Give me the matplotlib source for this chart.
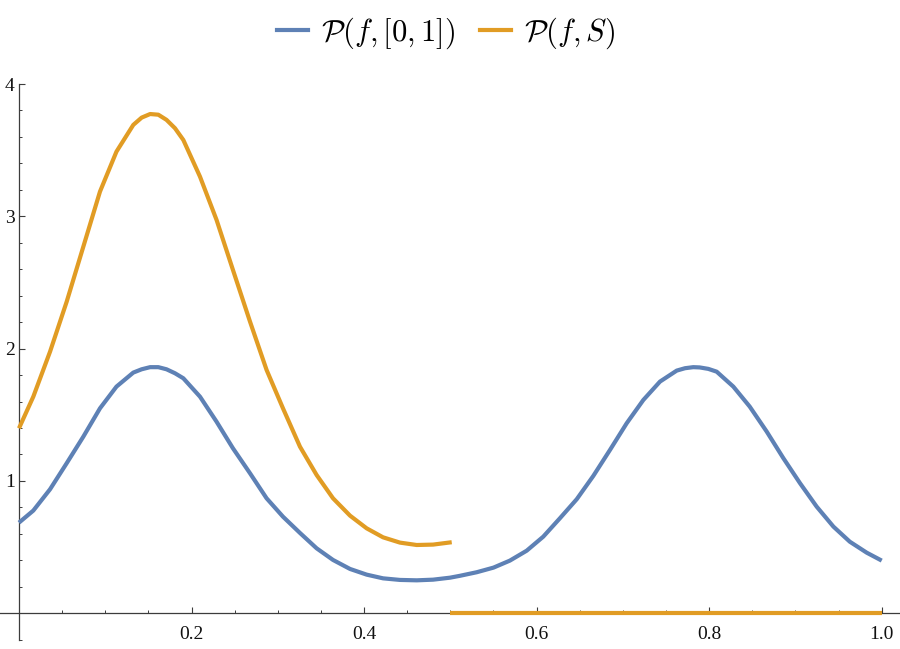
import matplotlib
matplotlib.use("Agg")
import matplotlib.pyplot as plt
from matplotlib.lines import Line2D
from matplotlib.ticker import MultipleLocator, FixedLocator

# ---- data ----
x_blue = [0.000, 0.0166, 0.036, 0.0553, 0.0746, 0.0939, 0.113, 0.1325, 0.1422, 0.152,
          0.1615, 0.171, 0.1808, 0.1905, 0.2098, 0.229, 0.248, 0.2678, 0.287, 0.306,
          0.3257, 0.345, 0.364, 0.3837, 0.403, 0.422, 0.4416, 0.461, 0.480, 0.4996,
          0.511, 0.5305, 0.550, 0.569, 0.5885, 0.6077, 0.627, 0.6465, 0.6657, 0.685,
          0.7044, 0.7237, 0.743, 0.7624, 0.7720, 0.7816, 0.789, 0.7990, 0.8087, 0.828,
          0.847, 0.8667, 0.886, 0.9053, 0.9246, 0.944, 0.963, 0.9826, 1.000]
y_blue = [0.685, 0.776, 0.937, 1.134, 1.335, 1.549, 1.713, 1.819, 1.844, 1.860,
          1.860, 1.844, 1.814, 1.776, 1.637, 1.448, 1.247, 1.058, 0.869, 0.730,
          0.607, 0.491, 0.403, 0.335, 0.292, 0.264, 0.252, 0.249, 0.254, 0.269,
          0.283, 0.310, 0.345, 0.398, 0.473, 0.579, 0.718, 0.862, 1.038, 1.234,
          1.436, 1.612, 1.751, 1.834, 1.852, 1.860, 1.858, 1.847, 1.826, 1.713,
          1.562, 1.373, 1.172, 0.983, 0.806, 0.655, 0.541, 0.458, 0.398]

x_orange = [0.000, 0.0166, 0.036, 0.0553, 0.0746, 0.0939, 0.113, 0.1325, 0.1422, 0.152,
            0.1615, 0.171, 0.1808, 0.1905, 0.2098, 0.229, 0.248, 0.2678, 0.287, 0.306,
            0.3257, 0.345, 0.364, 0.3837, 0.403, 0.422, 0.4416, 0.461, 0.480, 0.5016]
y_orange = [1.398, 1.637, 1.977, 2.355, 2.771, 3.187, 3.489, 3.691, 3.746, 3.773,
            3.768, 3.729, 3.666, 3.577, 3.300, 2.973, 2.595, 2.204, 1.839, 1.549,
            1.259, 1.045, 0.869, 0.738, 0.642, 0.574, 0.534, 0.516, 0.519, 0.537]
x_orange_zero = [0.5, 1.0]
y_orange_zero = [0.0, 0.0]

labels = [r'$\mathcal{P}(f,[0,1])$', r'$\mathcal{P}(f,S)$']
x_ticks = [0.2, 0.4, 0.6, 0.8, 1.0]
x_ticklabels = ['0.2', '0.4', '0.6', '0.8', '1.0']
y_ticks = [1, 2, 3, 4]
y_ticklabels = ['1', '2', '3', '4']

BLUE = '#5E81B5'
ORANGE = '#E19C24'
AXC = '#3c3c3c'

plt.rcParams['mathtext.fontset'] = 'cm'
plt.rcParams['font.family'] = ['Liberation Serif', 'DejaVu Serif']

fig = plt.figure(figsize=(9, 6.49), dpi=100)
ax = fig.add_axes([0.0, 9 / 649, 1.0, (640 - 84) / 649])

lw = 3.0
ax.plot(x_blue, y_blue, color=BLUE, lw=lw, solid_capstyle='butt',
        solid_joinstyle='round', zorder=3)
ax.plot(x_orange, y_orange, color=ORANGE, lw=lw, solid_capstyle='butt',
        solid_joinstyle='round', zorder=3)
ax.plot(x_orange_zero, y_orange_zero, color=ORANGE, lw=lw, solid_capstyle='butt', zorder=4,
        clip_on=False)

ax.set_xlim(-0.022, 1.0212)
ax.set_ylim(-0.202, 4.0)

for s in ['top', 'right']:
    ax.spines[s].set_visible(False)
ax.spines['left'].set_position(('data', 0))
ax.spines['bottom'].set_position(('data', 0))
for s in ['left', 'bottom']:
    ax.spines[s].set_color(AXC)
    ax.spines[s].set_linewidth(0.9)

ax.xaxis.set_major_locator(FixedLocator(x_ticks))
ax.set_xticklabels(x_ticklabels)
ax.xaxis.set_minor_locator(MultipleLocator(0.05))
ax.yaxis.set_major_locator(FixedLocator(y_ticks))
ax.set_yticklabels(y_ticklabels)
ax.yaxis.set_minor_locator(MultipleLocator(0.2))

ax.tick_params(axis='both', which='major', direction='in', length=4.5, width=0.8,
               color=AXC, labelsize=14, labelcolor='#111111')
ax.tick_params(axis='both', which='minor', direction='in', length=2.5, width=0.7, color=AXC)
ax.tick_params(axis='x', which='major', pad=9)
ax.tick_params(axis='y', which='major', pad=3)

handles = [Line2D([], [], color=BLUE, lw=lw), Line2D([], [], color=ORANGE, lw=lw)]
fig.legend(handles, labels, loc='center', bbox_to_anchor=(0.496, 1 - 33 / 649), ncol=2,
           frameon=False, fontsize=22, handlelength=1.0, handletextpad=0.43,
           columnspacing=0.82, borderaxespad=0)

fig.savefig('out.png', dpi=100)
